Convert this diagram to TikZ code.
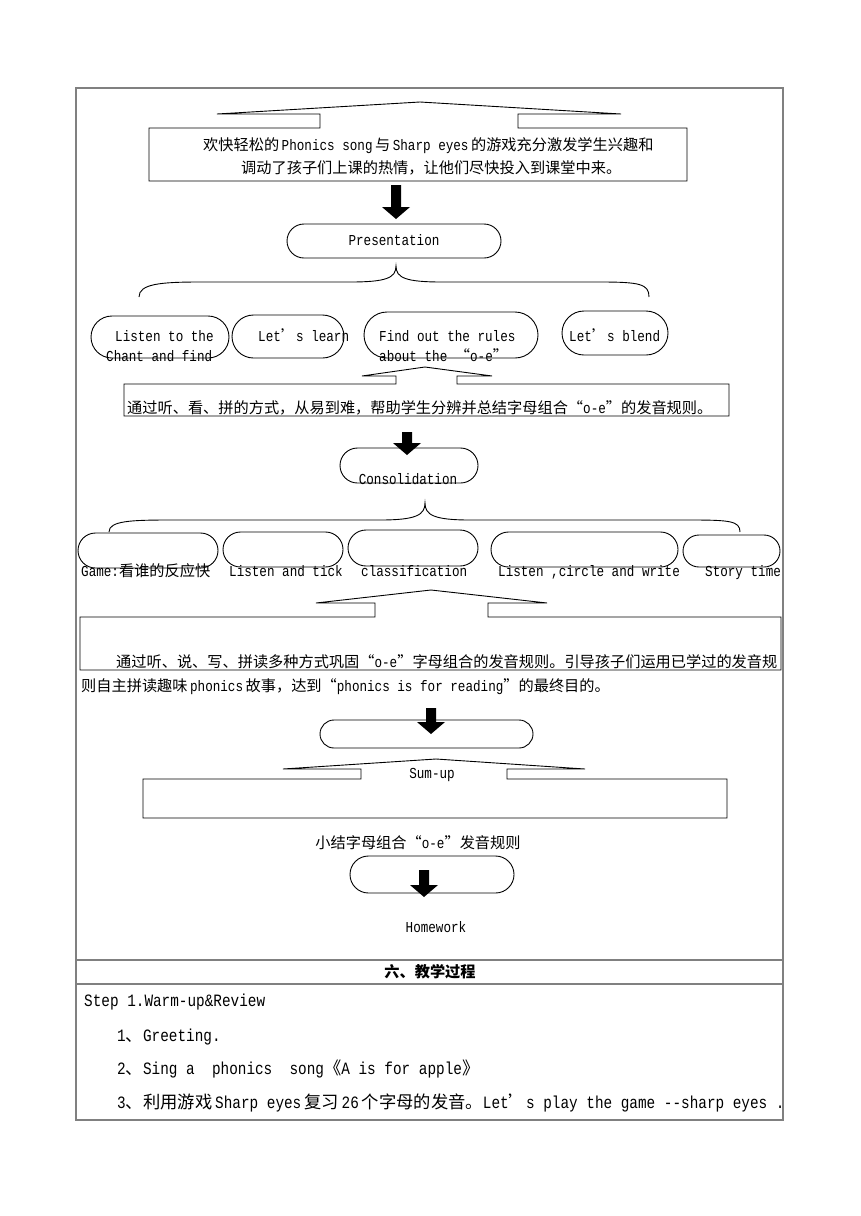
\documentclass[tikz,border=0pt]{standalone}
\usepackage{fontspec}
\setmainfont{Liberation Mono}[FakeStretch=0.83]
\newfontfamily\cjk{Noto Sans CJK SC}
\usetikzlibrary{shapes.misc}
\newcommand\zh[1]{{\cjk #1}}
\newcommand\smallsize{\fontsize{15.2}{18}\selectfont}
\newcommand\bigsize{\fontsize{17.3}{20}\selectfont}

\begin{document}
\begin{tikzpicture}[x=1pt, y=-1pt, line join=miter,
        tableline/.style={draw=gray, line width=1.5pt},
        shapeline/.style={draw=black, line width=0.9pt},
        roundbox/.style={shape=rounded rectangle, draw=black, line width=0.9pt, inner sep=0pt},
        txt/.style={inner sep=0pt, anchor=base west, font=\smallsize},
        ctxt/.style={inner sep=0pt, anchor=center, font=\smallsize},
        rowtxt/.style={inner sep=0pt, anchor=base west, font=\bigsize}]
        \useasboundingbox (0,0) rectangle (860,1216);
        % Table frame
        \draw[tableline] (76,88) -- (783,88) -- (783,1120) -- (76,1120) -- cycle;
        \foreach \y in {960, 984} {
          \draw[tableline] (76,\y) -- (783,\y);
        }
        % Callout boxes
\draw[shapeline] (320,128) -- (320,114) -- (217,114) -- (420,102) -- (621,114) -- (518,114) -- (518,128) -- (687,128) -- (687,181) -- (149,181) -- (149,128) -- cycle;
\draw[shapeline] (396,384) -- (396,376) -- (362,376) -- (425,367) -- (492,376) -- (457,376) -- (457,384) -- (729,384) -- (729,416) -- (124,416) -- (124,384) -- cycle;
\draw[shapeline] (375,617) -- (375,603) -- (316,603) -- (431,590) -- (547,603) -- (488,603) -- (488,617) -- (781,617) -- (781,670) -- (80,670) -- (80,617) -- cycle;
\draw[shapeline] (361,779) -- (361,769) -- (283,769) -- (436,759) -- (585,769) -- (507,769) -- (507,779) -- (727,779) -- (727,818) -- (143,818) -- (143,779) -- cycle;
        % Rounded boxes
        \foreach \name/\x/\y/\w/\h in {pres/394/241/214/34, p1/160/337/138/42, p2/288/336.5/112/43, p3/451/335/174/46, p4/615/333/106/44,
                cons/409/465.5/138/35, c1/148/550.5/140/35, c2/283/549.5/120/35, c3/413/548/130/36, c4/584.5/549.5/187/35, c5/731.5/551/97/32,
                sum/426.5/734/213/28, home/432/874.5/164/37} {
          \node[roundbox, minimum width=\w*1pt, minimum height=\h*1pt] (\name) at (\x,\y) {};
        }
        % Braces
\draw[shapeline] (139,297) .. controls (139,284) and (160,282) .. (200,282) -- (350,282) .. controls (386,282) and (396,278) .. (396,266)
        .. controls (396,278) and (406,282) .. (442,282) -- (600,282) .. controls (640,282) and (649,284) .. (649,297);
\draw[shapeline] (109,532) .. controls (109,521) and (130,520) .. (170,520) -- (380,520) .. controls (416,520) and (425,515) .. (425,503)
        .. controls (425,515) and (434,520) .. (470,520) -- (690,520) .. controls (730,520) and (740,521) .. (740,532);
        % Texts
\node[txt] (topA) at (203,150) {\zh{欢快轻松的}\,Phonics song\,\zh{与}\,Sharp eyes\,\zh{的游戏充分激发学生兴趣和}};
\node[txt] (topB) at (241,173) {\zh{调动了孩子们上课的热情，让他们尽快投入到课堂中来。}};
\node[ctxt] (presText) at (394,240) {Presentation};
\node[txt] (p1a) at (115,341) {Listen to the};
\node[txt] (p1b) at (106,361) {Chant and find};
\node[txt] (p2t) at (258,341) {Let\zh{’}s learn};
\node[txt] (p3a) at (379,341) {Find out the rules};
\node[txt] (p3b) at (379,361) {about the \zh{“}o-e\zh{”}};
\node[txt] (p4t) at (569,341) {Let\zh{’}s blend};
\node[txt] (presNote) at (127,413) {\zh{通过听、看、拼的方式，从易到难，帮助学生分辨并总结字母组合“}o-e\zh{”的发音规则。}};
\node[ctxt] (consText) at (408,479) {Consolidation};
        \foreach \x/\ctext [count=\i] in {81/{Game:\zh{看谁的反应快}}, 229/{Listen and tick}, 361/{classification}, 498/{Listen ,circle and write}, 705/{Story time}} {
          \node[txt] (ctext\i) at (\x,576) {\ctext};
        }
\node[txt] (consNoteA) at (116,667) {\zh{通过听、说、写、拼读多种方式巩固“}o-e\zh{”字母组合的发音规则。引导孩子们运用已学过的发音规}};
\node[txt] (consNoteB) at (81,691) {\zh{则自主拼读趣味}\,phonics\,\zh{故事，达到“}phonics is for reading\zh{”的最终目的。}};
\node[ctxt] (sumText) at (432,775) {Sum-up};
\node[ctxt] (sumNote) at (418,843) {\zh{小结字母组合“}o-e\zh{”发音规则}};
\node[ctxt] (homeText) at (436,927) {Homework};
\node[ctxt, font=\smallsize\bfseries] (stepHead) at (430,972) {\zh{六、教学过程}};
\node[rowtxt] (step1) at (84,1006) {Step 1.Warm-up\&Review};
\node[rowtxt] (step1a) at (117,1041) {1\zh{、}Greeting.};
\node[rowtxt] (step1b) at (117,1074) {2\zh{、}Sing a\ \ phonics\ \ song\zh{《}A is for apple\zh{》}};
\node[rowtxt] (step1c) at (117,1108) {3\zh{、利用游戏}\,Sharp eyes\,\zh{复习}\,26\,\zh{个字母的发音。}Let\zh{’}s play the game -{}-sharp eyes .};
        % Block arrows
        \foreach \n/\x/\y/\l in {1/396/185/34, 2/407/432/23, 3/431/708/26, 4/424/870/27} {
          \coordinate (arrow\n) at (\x,\y);
          \fill (arrow\n) ++(-5,0) -- ++(10,0) -- ++(0,\l-12) -- ++(9,0) -- ++(-14,12) -- ++(-14,-12) -- ++(9,0) -- cycle;
        }
\end{tikzpicture}
\end{document}
